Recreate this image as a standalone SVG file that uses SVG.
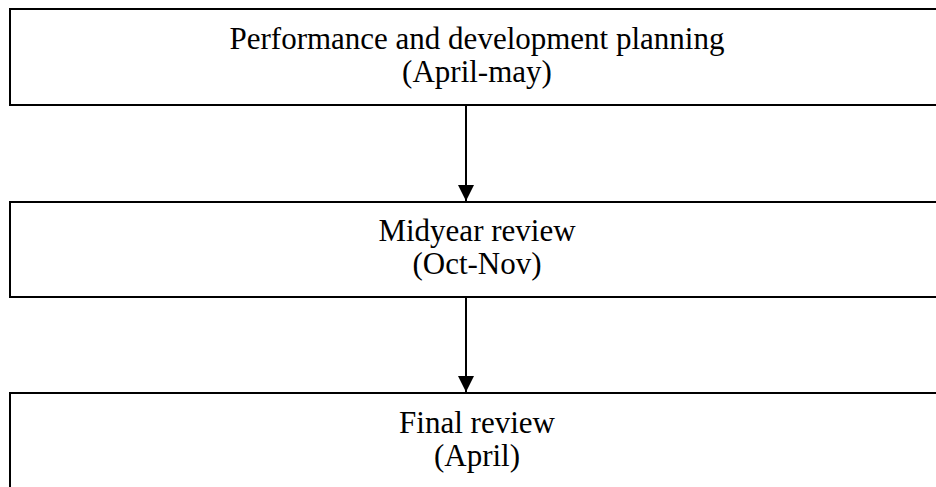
<svg xmlns="http://www.w3.org/2000/svg" width="936" height="487" viewBox="0 0 936 487">
<style>
.box{fill:#fff;stroke:#000;stroke-width:2}
.t{font-family:"Liberation Serif","Times New Roman",serif;font-size:31px;fill:#000;text-anchor:middle}
.c{stroke:#000;stroke-width:2;fill:none}
</style>
<defs>
<marker id="ah" markerUnits="userSpaceOnUse" markerWidth="16" markerHeight="16" refX="16" refY="8" orient="auto">
<path d="M0,0 L16,8 L0,16 Z" fill="#000"/>
</marker>
</defs>
<rect width="936" height="487" fill="#fff"/>
<g id="node1">
<rect class="box" x="10" y="9" width="934" height="96"/>
<text class="t" x="477" y="49">Performance and development planning</text>
<text class="t" x="477" y="82">(April-may)</text>
</g>
<g id="node2">
<rect class="box" x="10" y="202" width="934" height="95"/>
<text class="t" x="477" y="241">Midyear review</text>
<text class="t" x="477" y="274">(Oct-Nov)</text>
</g>
<g id="node3">
<rect class="box" x="10" y="393" width="934" height="100"/>
<text class="t" x="477" y="433">Final review</text>
<text class="t" x="477" y="466">(April)</text>
</g>
<g id="connectors">
<line class="c" x1="466" y1="105" x2="466" y2="201" marker-end="url(#ah)"/>
<line class="c" x1="466" y1="297" x2="466" y2="392" marker-end="url(#ah)"/>
</g>
</svg>
